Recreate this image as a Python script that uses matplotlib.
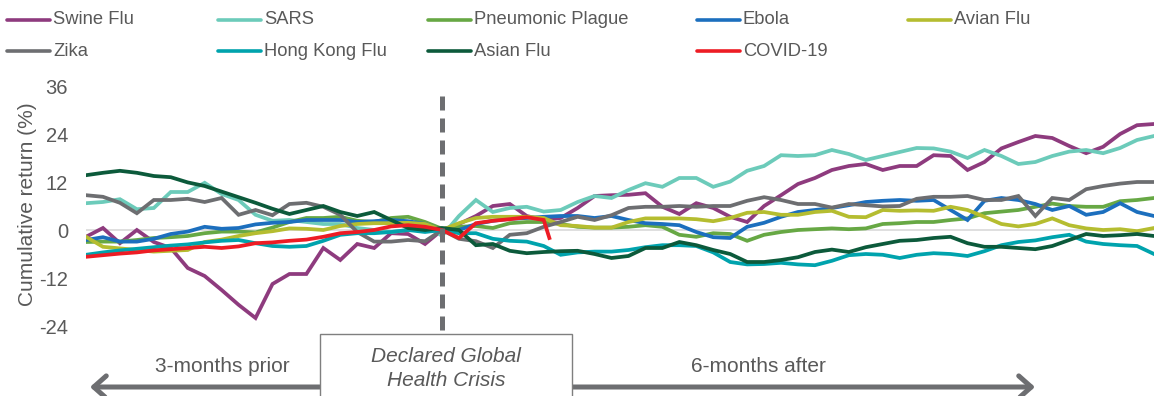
import matplotlib
matplotlib.use("Agg")
import matplotlib.pyplot as plt
from matplotlib.lines import Line2D
from matplotlib.patches import Rectangle, FancyArrowPatch

plt.rcParams['font.family'] = ['Liberation Sans', 'DejaVu Sans']
plt.rcParams['axes.unicode_minus'] = False

# ---------------- data (trading days relative to declaration) ----------------
days = list(range(-63, 127, 3))
covid_days = list(range(-63, 19, 3)) + [19]

swine_flu = [-1.7, 0.5, -3.3, 0.0, -3.0, -4.5, -9.5, -11.5, -15.0, -18.7, -22.0,
             -13.5, -11.0, -11.0, -4.5, -7.5, -3.5, -4.5, -0.8, -1.0, -3.5,
             0.0,
             1.5, 3.5, 6.0, 6.5, 3.5, 2.5, 3.0, 5.5, 8.5, 8.7, 8.8, 9.2, 5.8, 4.0,
             6.7, 5.5, 3.3, 2.0, 6.0, 8.7, 11.5, 13.0, 15.0, 16.0, 16.5, 15.0, 16.0,
             16.0, 18.7, 18.5, 15.0, 17.0, 20.4, 22.0, 23.5, 23.0, 21.0, 19.2, 20.8,
             24.0, 26.2, 26.5]
sars = [6.7, 7.0, 7.7, 5.2, 5.5, 9.5, 9.5, 11.8, 9.0, 7.5, 3.8, 2.3, 2.5, 2.0,
        1.5, 1.5, 0.5, 0.0, -0.5, 0.0, 1.5,
        -1.5,
        3.5, 7.5, 4.5, 5.5, 5.8, 4.6, 5.0, 7.0, 8.5, 8.0, 10.0, 11.7, 10.8, 13.0,
        13.0, 10.8, 12.1, 14.8, 16.0, 18.7, 18.5, 18.7, 20.0, 19.0, 17.5, 18.5,
        19.5, 20.5, 20.4, 19.6, 18.0, 20.0, 18.5, 16.5, 17.0, 18.5, 19.6, 20.0,
        19.2, 20.5, 22.5, 23.5]
pneumonic_plague = [-3.0, -2.9, -2.9, -2.5, -2.0, -1.8, -1.5, -0.8, -0.4, -0.4,
                    -0.6, 0.6, 2.0, 3.0, 3.0, 3.3, 2.3, 2.0, 3.0, 3.3, 2.0,
                    0.3,
                    0.8, 1.0, 0.5, 1.7, 2.0, 2.0, 1.5, 0.8, 0.6, 0.6, 0.8, 1.2, 0.8,
                    -1.2, -1.7, -0.8, -1.0, -2.7, -1.2, -0.5, 0.0, 0.2, 0.4, 0.2,
                    0.4, 1.5, 1.7, 2.0, 2.0, 2.5, 2.9, 4.2, 4.6, 5.0, 5.8, 6.6, 6.0,
                    5.8, 5.8, 7.2, 7.5, 8.0]
ebola = [-2.5, -1.8, -2.9, -2.9, -2.2, -1.0, -0.4, 0.8, 0.3, 0.5, 1.4, 1.8, 2.0,
         2.5, 2.5, 2.5, 2.0, 2.2, 2.5, 2.2, 1.5,
         0.0,
         0.0, 1.5, 2.3, 2.8, 3.0, 3.3, 3.5, 3.5, 3.0, 3.5, 2.5, 1.7, 1.5, 1.2,
         -0.5, -1.8, -2.0, 0.8, 1.8, 3.3, 4.5, 5.0, 5.5, 6.2, 7.0, 7.3, 7.5, 7.3,
         7.5, 5.0, 2.5, 7.3, 8.0, 7.5, 6.5, 5.0, 6.0, 3.8, 4.5, 6.7, 4.5, 3.5]
avian_flu = [-1.7, -4.2, -4.6, -5.0, -5.4, -5.2, -5.0, -3.0, -2.4, -1.5, -0.8,
             -0.3, 0.4, 0.3, 0.0, 1.0, 1.5, 1.7, 1.7, 1.8, 1.5,
             0.0,
             1.7, 3.0, 3.3, 3.3, 3.3, 3.0, 1.2, 1.0, 0.6, 0.6, 2.0, 2.9, 2.9, 2.9,
             2.7, 2.2, 3.0, 4.3, 4.5, 3.8, 3.8, 4.5, 4.8, 3.3, 3.2, 5.0, 4.8, 4.9,
             4.8, 5.8, 5.0, 3.3, 1.5, 0.9, 1.5, 2.9, 1.2, 0.4, 0.0, 0.2, -0.3, 0.5]
zika = [8.7, 8.3, 6.8, 4.2, 7.5, 7.5, 7.8, 7.0, 8.0, 3.8, 5.0, 3.7, 6.5, 6.8,
        5.8, 3.8, -0.5, -2.9, -2.9, -2.5, -2.8,
        0.0,
        -2.2, -2.8, -4.5, -1.2, -0.8, 0.8, 2.0, 3.3, 2.5, 3.7, 5.5, 5.8, 5.8, 6.0,
        5.8, 6.0, 6.0, 7.3, 8.2, 7.5, 6.5, 6.5, 5.6, 6.5, 6.2, 5.9, 6.0, 7.8, 8.3,
        8.3, 8.5, 7.5, 7.5, 8.5, 3.5, 8.0, 7.5, 10.2, 11.0, 11.6, 12.0, 12.0]
hong_kong_flu = [-6.2, -5.6, -5.1, -4.7, -4.3, -3.9, -3.6, -3.1, -2.7, -2.5, -3.3,
                 -4.0, -4.2, -4.0, -2.7, -1.2, -0.8, -0.8, -0.5, 0.0, -0.5,
                 0.0,
                 -0.8, -0.8, -2.2, -2.7, -2.9, -4.0, -6.2, -5.6, -5.4, -5.4, -5.0,
                 -4.3, -3.8, -3.8, -4.0, -5.6, -8.0, -8.6, -8.5, -8.2, -8.6, -8.8,
                 -7.7, -6.3, -6.0, -6.2, -7.0, -6.2, -5.8, -6.0, -6.5, -5.3, -3.8,
                 -3.0, -2.6, -1.8, -1.2, -2.9, -3.5, -3.8, -4.0, -6.0]
asian_flu = [13.7, 14.3, 14.8, 14.3, 13.5, 13.2, 11.9, 11.0, 9.6, 8.2, 6.8, 5.3,
             4.0, 5.0, 6.0, 4.5, 3.5, 4.5, 2.5, 0.5, 0.0,
             0.5,
             0.0, -3.8, -3.5, -5.2, -5.8, -5.5, -5.3, -5.2, -6.0, -7.0, -6.5, -4.5,
             -4.5, -3.0, -3.8, -5.0, -6.0, -8.0, -8.0, -7.5, -6.8, -5.5, -4.9,
             -5.5, -4.3, -3.5, -2.7, -2.5, -2.0, -1.7, -3.3, -4.2, -4.2, -4.5,
             -4.8, -4.0, -2.5, -1.0, -1.5, -1.3, -1.0, -1.5]
covid_19 = [-6.7, -6.3, -5.9, -5.6, -5.1, -4.8, -4.5, -4.2, -4.5, -4.1, -3.3,
            -3.1, -2.7, -2.4, -1.7, -0.8, -0.5, 0.0, 0.9, 1.2, 0.8,
            0.0,
            -2.0, 1.7, 2.3, 2.7, 3.2, 2.5, -2.0]

labels = ["Swine Flu", "SARS", "Pneumonic Plague", "Ebola", "Avian Flu",
          "Zika", "Hong Kong Flu", "Asian Flu", "COVID-19"]
values = [swine_flu, sars, pneumonic_plague, ebola, avian_flu,
          zika, hong_kong_flu, asian_flu, covid_19]
xvals = [days] * 8 + [covid_days]
colors = ["#8E3B7E", "#6CCBBA", "#67A844", "#1C6FBE", "#B5BD30",
          "#6D6E71", "#00A3AD", "#0C5A3B", "#ED1C24"]

yticks = [-24, -12, 0, 12, 24, 36]
ytick_labels = ["-24", "-12", "0", "12", "24", "36"]

# ---------------- figure ----------------
W, H = 1154, 396
fig = plt.figure(figsize=(W / 100, H / 100), dpi=100)
fig.patch.set_facecolor("white")
ax = fig.add_axes([86 / W, 1 - 334 / H, 1 - 86 / W, 248 / H])

ax.axhline(0, color="#D9D9D9", lw=1.2, zorder=0)
for x, y, c in zip(xvals, values, colors):
    ax.plot(x, y, color=c, lw=2.7, solid_joinstyle="miter", zorder=2)

ax.vlines(0, -25, 35.5, colors="#6D6E71", lw=3.6,
          linestyles=(0, (2.8, 1.6)), zorder=5)

ax.set_xlim(-63, 126)
ax.set_ylim(-26, 36)
ax.set_xticks([])
ax.set_yticks(yticks)
ax.set_yticklabels(ytick_labels)
ax.tick_params(axis="y", length=0, pad=13, labelsize=14.5, labelcolor="#595959")
for s in ax.spines.values():
    s.set_visible(False)
ax.set_ylabel("Cumulative return (%)", fontsize=15, color="#595959")
ax.yaxis.set_label_coords(-0.046, 0.524)

# ---------------- legend (grid layout like the source) ----------------
col_x = [7, 218, 428, 697, 908]
row_y = [20, 51]
for i, (lab, c) in enumerate(zip(labels, colors)):
    r, k = divmod(i, 5)
    x0 = col_x[k]
    y0 = 1 - row_y[r] / H
    fig.add_artist(Line2D([x0 / W, (x0 + 43) / W], [y0, y0], color=c, lw=2.6,
                          solid_capstyle="round", transform=fig.transFigure))
    fig.text((x0 + 46) / W, y0, lab, fontsize=13.2, color="#595959",
             ha="left", va="center")

# ---------------- bottom annotation ----------------
arrow = FancyArrowPatch((90 / W, 1 - 387 / H), (1035 / W, 1 - 387 / H),
                        transform=fig.transFigure,
                        arrowstyle="<->,head_length=0.45,head_width=0.4",
                        mutation_scale=20, lw=3.6, color="#6D6E71",
                        shrinkA=0, shrinkB=0, zorder=8)
fig.add_artist(arrow)
box = Rectangle((320 / W, -0.05), (572 - 320) / W, (1 - 334 / H) + 0.05,
                transform=fig.transFigure, facecolor="white",
                edgecolor="#7F7F7F", lw=1.0, zorder=10)
fig.add_artist(box)
fig.text(222 / W, 1 - 366 / H, "3-months prior", fontsize=15, color="#595959",
         ha="center", va="center")
fig.text(758 / W, 1 - 366 / H, "6-months after", fontsize=15, color="#595959",
         ha="center", va="center")
fig.text(446 / W, 1 - 357 / H, "Declared Global", fontsize=15, color="#595959",
         style="italic", ha="center", va="center", zorder=11)
fig.text(446 / W, 1 - 381 / H, "Health Crisis", fontsize=15, color="#595959",
         style="italic", ha="center", va="center", zorder=11)

fig.savefig("out.png", dpi=100, facecolor="white")
